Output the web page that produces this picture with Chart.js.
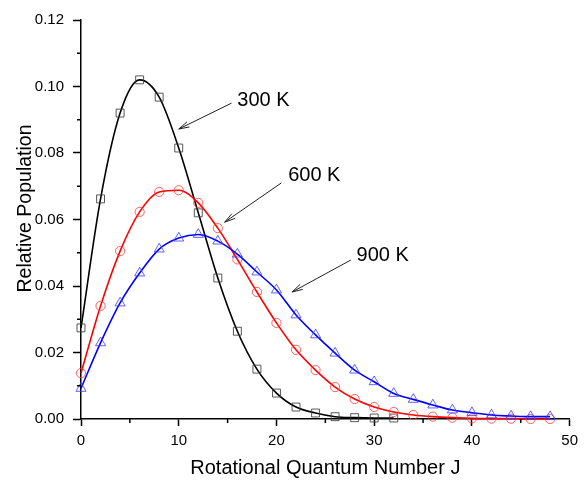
<!DOCTYPE html>
<html>
<head>
<meta charset="UTF-8">
<script src="https://cdn.jsdelivr.net/npm/chart.js@4.4.1/dist/chart.umd.min.js"></script>
<style>
  html, body { margin: 0; padding: 0; background: #fff; }
  #wrap { width: 584px; height: 480px; position: relative; }
</style>
</head>
<body>
<div id="wrap"><canvas id="rotChart"></canvas></div>
<script>
// rotational quantum number J (every 2nd level)
var J = [0, 2, 4, 6, 8, 10, 12, 14, 16, 18, 20, 22, 24, 26, 28, 30, 32, 34, 36, 38, 40, 42, 44, 46, 48];

// relative population
var pop300 = [0.0274, 0.0662, 0.0920, 0.1020, 0.0968, 0.0815, 0.0620, 0.0424, 0.0264, 0.0150,
              0.0078, 0.0036, 0.0018, 0.0007, 0.0004, 0.0003, 0.0003];
var pop600 = [0.0138, 0.0340, 0.0505, 0.0623, 0.0683, 0.0688, 0.0650, 0.0574, 0.0480, 0.0382,
              0.0289, 0.0208, 0.0147, 0.0096, 0.0060, 0.0036, 0.0021, 0.0012, 0.0007, 0.0004,
              0.0002, 0.0001, 0.0001, 0.0000, 0.0000];
var pop900 = [0.0092, 0.0229, 0.0349, 0.0439, 0.0511, 0.0544, 0.0555, 0.0535, 0.0496, 0.0442,
              0.0388, 0.0313, 0.0253, 0.0198, 0.0147, 0.0112, 0.0077, 0.0059, 0.0042, 0.0027,
              0.0019, 0.0012, 0.0009, 0.0007, 0.0007];

var xTicks = [0, 10, 20, 30, 40, 50];
var yTicks = [0.00, 0.02, 0.04, 0.06, 0.08, 0.10, 0.12];
var yTitle = 'Relative Population';

// annotation labels and arrows (data coordinates)
var noteText  = ['300 K', '600 K', '900 K'];
var noteAt    = [[16.0, 0.0959], [21.2, 0.0731], [28.2, 0.0493]];
var arrowFrom = [[15.4, 0.0950], [20.5, 0.0710], [27.6, 0.0478]];
var arrowTo   = [[10.0, 0.0872], [14.7, 0.0592], [21.6, 0.0382]];

function pts(ys) {
  var out = [];
  for (var i = 0; i < ys.length; i++) out.push({x: J[i], y: ys[i]});
  return out;
}

var FONT = "'Liberation Sans', Arial, sans-serif";

// minor ticks (half way between the major ones), y title, annotations
var extrasPlugin = {
  id: 'extras',
  afterDatasetsDraw: function(chart) {
    var ctx = chart.ctx;
    var xs = chart.scales.x, ys = chart.scales.y;
    var area = chart.chartArea;
    ctx.save();
    ctx.strokeStyle = '#000';
    ctx.lineWidth = 1.5;
    ctx.beginPath();
    for (var i = 0; i < xTicks.length - 1; i++) {
      var px = xs.getPixelForValue((xTicks[i] + xTicks[i + 1]) / 2);
      ctx.moveTo(px, area.bottom);
      ctx.lineTo(px, area.bottom + 4);
    }
    for (var k = 0; k < yTicks.length - 1; k++) {
      var py = ys.getPixelForValue((yTicks[k] + yTicks[k + 1]) / 2);
      ctx.moveTo(area.left, py);
      ctx.lineTo(area.left - 4, py);
    }
    ctx.stroke();

    // y axis title, sits a bit above the middle like the original
    ctx.save();
    ctx.translate(area.left - 55, (area.top + area.bottom) / 2 - 11);
    ctx.rotate(-Math.PI / 2);
    ctx.fillStyle = '#000';
    ctx.font = '19.5px ' + FONT;
    ctx.textAlign = 'center';
    ctx.textBaseline = 'middle';
    ctx.fillText(yTitle, 0, 0);
    ctx.restore();

    // labels with arrows
    ctx.fillStyle = '#000';
    ctx.font = '20px ' + FONT;
    ctx.textAlign = 'left';
    ctx.textBaseline = 'middle';
    ctx.lineWidth = 1;
    ctx.strokeStyle = '#222';
    for (var n = 0; n < noteText.length; n++) {
      ctx.fillText(noteText[n], xs.getPixelForValue(noteAt[n][0]), ys.getPixelForValue(noteAt[n][1]));
      var x1 = xs.getPixelForValue(arrowFrom[n][0]), y1 = ys.getPixelForValue(arrowFrom[n][1]);
      var x2 = xs.getPixelForValue(arrowTo[n][0]), y2 = ys.getPixelForValue(arrowTo[n][1]);
      ctx.beginPath();
      ctx.moveTo(x1, y1);
      ctx.lineTo(x2, y2);
      ctx.stroke();
      var a = Math.atan2(y1 - y2, x1 - x2);
      var len = 11, spread = 0.26;
      ctx.beginPath();
      ctx.moveTo(x2 + len * Math.cos(a + spread), y2 + len * Math.sin(a + spread));
      ctx.lineTo(x2, y2);
      ctx.lineTo(x2 + len * Math.cos(a - spread), y2 + len * Math.sin(a - spread));
      ctx.stroke();
    }
    ctx.restore();
  }
};

var common = {
  showLine: true,
  borderWidth: 1.6,
  cubicInterpolationMode: 'monotone',
  pointBackgroundColor: 'rgba(0,0,0,0)',
  pointBorderWidth: 1,
  pointHoverRadius: 0,
  clip: false
};

var ctx = document.getElementById('rotChart').getContext('2d');
var chart = new Chart(ctx, {
  type: 'scatter',
  data: {
    datasets: [
      Object.assign({}, common, {
        label: '900 K',
        data: pts(pop900),
        borderColor: '#0000ff',
        pointBorderColor: 'rgba(60,60,255,0.8)',
        pointStyle: 'triangle',
        pointRadius: 5.8
      }),
      Object.assign({}, common, {
        label: '600 K',
        data: pts(pop600),
        borderColor: '#ff0000',
        pointBorderColor: 'rgba(255,60,60,0.8)',
        pointStyle: 'circle',
        pointRadius: 4.6
      }),
      Object.assign({}, common, {
        label: '300 K',
        data: pts(pop300),
        borderColor: '#000000',
        pointBorderColor: 'rgba(60,60,60,0.85)',
        pointStyle: 'rect',
        pointRadius: 5.6
      })
    ]
  },
  options: {
    animation: false,
    responsive: true,
    maintainAspectRatio: false,
    events: [],
    layout: { padding: { top: 20, right: 12, left: 0, bottom: 0 } },
    plugins: {
      legend: { display: false },
      tooltip: { enabled: false }
    },
    scales: {
      x: {
        type: 'linear',
        min: 0,
        max: 50,
        afterFit: function(s) { s.height = 61; },
        afterBuildTicks: function(s) { s.ticks = xTicks.map(function(v) { return {value: v}; }); },
        ticks: {
          color: '#000',
          padding: 6,
          font: { family: FONT, size: 15 },
          callback: function(v) { return String(v); }
        },
        grid: { drawOnChartArea: false, tickLength: 7, tickColor: '#000', tickWidth: 1.5 },
        border: { color: '#000', width: 1.5 },
        title: {
          display: true,
          text: 'Rotational Quantum Number J',
          color: '#000',
          font: { family: FONT, size: 20 },
          padding: { top: 0, bottom: 0 }
        }
      },
      y: {
        min: 0,
        max: 0.12,
        afterFit: function(s) { s.width = 81; },
        afterBuildTicks: function(s) { s.ticks = yTicks.map(function(v) { return {value: v}; }); },
        ticks: {
          color: '#000',
          padding: 9,
          font: { family: FONT, size: 15 },
          callback: function(v) { return v.toFixed(2); }
        },
        grid: { drawOnChartArea: false, tickLength: 8, tickColor: '#000', tickWidth: 1.5 },
        border: { color: '#000', width: 1.5 },
        title: { display: false }
      }
    }
  },
  plugins: [extrasPlugin]
});
</script>
</body>
</html>
